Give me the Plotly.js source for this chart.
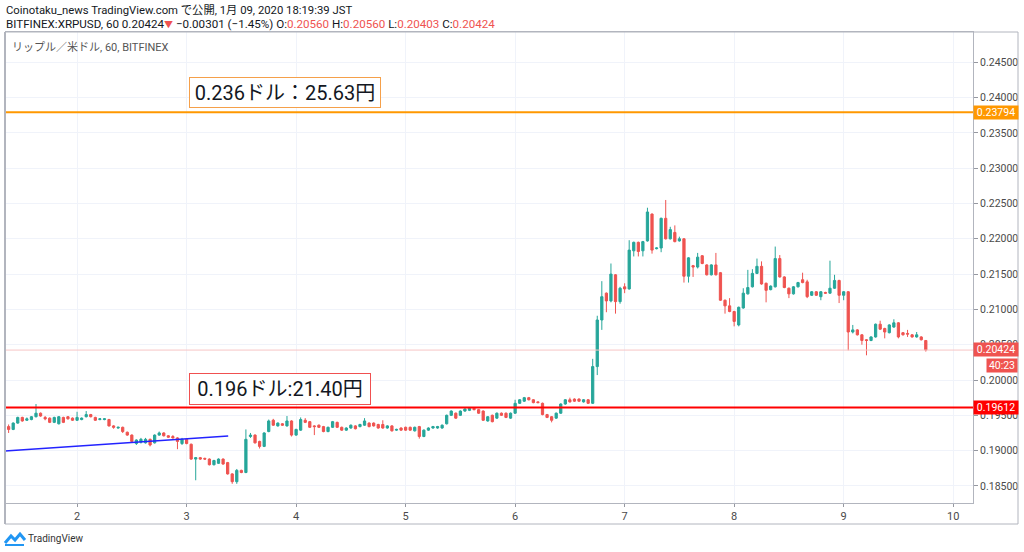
<!DOCTYPE html>
<html>
<head>
<meta charset="utf-8">
<script src="https://cdn.plot.ly/plotly-3.0.1.min.js"></script>
<style>
html,body{margin:0;padding:0;background:#fff;}
#chart{width:1024px;height:552px;}
</style>
</head>
<body>
<div id="chart"></div>
<script>
// ---- Data (hourly candles, XRPUSD, BITFINEX) ----
const startDay = 1;      // January 1
const startHour = 9;     // first candle hour
const openP = [
.1934,.1930,.1939,.1947,.1943,.1944,.1948,.1953,.1947,.1946,
.1940,.1938,.1947,.1948,.1946,.1943,.1944,.1948,.1951,.1947,
.1944,.1944,.1944,.1935,.1932,.1933,.1926,.1922,.1910,.1912,
.1911,.1916,.1911,.1922,.1925,.1921,.1920,.1918,.1910,.1916,
.1909,.1888,.1890,.1889,.1888,.1880,.1882,.1888,.1883,.1867,
.1856,.1872,.1869,.1920,.1922,.1913,.1906,.1927,.1943,.1935,
.1938,.1935,.1942,.1922,.1929,.1943,.1941,.1935,.1936,.1934,
.1927,.1933,.1940,.1933,.1929,.1932,.1935,.1934,.1936,.1939,
.1939,.1937,.1937,.1932,.1935,.1929,.1932,.1933,.1933,.1928,
.1934,.1920,.1929,.1932,.1932,.1932,.1938,.1950,.1953,.1950,
.1956,.1957,.1960,.1958,.1956,.1942,.1950,.1946,.1953,.1953,
.1946,.1953,.1967,.1970,.1975,.1972,.1969,.1967,.1951,.1948,
.1946,.1953,.1966,.1972,.1973,.1973,.1969,.1972,.1967,.2019,
.2085,.2123,.2112,.2149,.2111,.2132,.2129,.2183,.2195,.2183,
.2197,.2235,.2186,.2187,.2229,.2200,.2209,.2197,.2200,.2147,
.2162,.2160,.2176,.2163,.2149,.2163,.2152,.2113,.2105,.2097,
.2078,.2102,.2122,.2132,.2151,.2161,.2137,.2128,.2132,.2172,
.2146,.2130,.2122,.2132,.2142,.2139,.2120,.2125,.2118,.2124,
.2123,.2130,.2141,.2120,.2125,.2068,.2071,.2064,.2057,.2056,
.2061,.2079,.2073,.2067,.2075,.2081,.2067,.2066,.2064,.2061,
.2061,.20560];
const highP = [
.1937,.1940,.1948,.1948,.1947,.1949,.1966,.1954,.1949,.1947,
.1948,.1949,.1948,.1949,.1947,.1955,.1947,.1956,.1952,.1948,
.1946,.1946,.1945,.1936,.1934,.1934,.1927,.1923,.1916,.1918,
.1918,.1917,.1923,.1927,.1926,.1922,.1922,.1919,.1918,.1917,
.1910,.1891,.1891,.1890,.1889,.1887,.1889,.1889,.1884,.1868,
.1874,.1873,.1930,.1925,.1923,.1914,.1926,.1944,.1945,.1940,
.1939,.1949,.1943,.1931,.1947,.1946,.1942,.1936,.1937,.1935,
.1934,.1942,.1941,.1934,.1933,.1937,.1936,.1938,.1946,.1940,
.1940,.1938,.1943,.1936,.1936,.1931,.1933,.1934,.1934,.1934,
.1935,.1930,.1933,.1935,.1935,.1937,.1951,.1957,.1954,.1957,
.1960,.1961,.1961,.1959,.1957,.1949,.1951,.1954,.1954,.1954,
.1954,.1972,.1973,.1976,.1976,.1973,.1970,.1968,.1952,.1949,
.1954,.1967,.1973,.1975,.1974,.1974,.1973,.1973,.2030,.2091,
.2140,.2124,.2165,.2150,.2132,.2137,.2198,.2196,.2196,.2197,
.2244,.2236,.2188,.2230,.2255,.2217,.2219,.2203,.2201,.2174,
.2163,.2180,.2177,.2164,.2164,.2180,.2153,.2114,.2116,.2098,
.2104,.2130,.2156,.2157,.2172,.2168,.2138,.2134,.2189,.2177,
.2147,.2131,.2133,.2139,.2152,.2142,.2126,.2126,.2126,.2125,
.2169,.2149,.2142,.2126,.2126,.2078,.2072,.2065,.2058,.2062,
.2080,.2084,.2074,.2079,.2086,.2082,.2068,.2071,.2065,.2068,
.2062,.20560];
const lowP = [
.1925,.1929,.1938,.1941,.1942,.1943,.1947,.1948,.1943,.1939,
.1939,.1937,.1939,.1944,.1942,.1942,.1943,.1947,.1947,.1942,
.1943,.1943,.1934,.1931,.1931,.1925,.1921,.1911,.1908,.1910,
.1910,.1906,.1910,.1921,.1920,.1918,.1917,.1902,.1908,.1909,
.1887,.1858,.1887,.1887,.1879,.1879,.1881,.1880,.1866,.1853,
.1853,.1868,.1868,.1918,.1910,.1903,.1905,.1926,.1935,.1934,
.1935,.1934,.1920,.1921,.1928,.1939,.1932,.1922,.1932,.1926,
.1926,.1932,.1932,.1928,.1928,.1931,.1930,.1933,.1935,.1933,
.1934,.1931,.1931,.1931,.1927,.1928,.1928,.1928,.1928,.1927,
.1917,.1919,.1928,.1931,.1931,.1931,.1937,.1949,.1945,.1949,
.1955,.1956,.1957,.1952,.1942,.1941,.1940,.1945,.1949,.1946,
.1945,.1952,.1966,.1969,.1971,.1967,.1967,.1950,.1946,.1940,
.1945,.1952,.1965,.1968,.1969,.1969,.1968,.1966,.1966,.2007,
.2071,.2096,.2110,.2094,.2108,.2123,.2128,.2175,.2175,.2175,
.2196,.2179,.2185,.2181,.2199,.2199,.2195,.2196,.2138,.2138,
.2146,.2158,.2164,.2148,.2148,.2148,.2112,.2094,.2096,.2076,
.2076,.2101,.2121,.2131,.2150,.2135,.2110,.2127,.2131,.2145,
.2130,.2116,.2121,.2131,.2137,.2116,.2119,.2119,.2113,.2122,
.2122,.2129,.2109,.2113,.2042,.2066,.2063,.2050,.2035,.2055,
.2060,.2071,.2059,.2066,.2074,.2059,.2063,.2061,.2060,.2060,
.2056,.20403];
const closeP = [
.1930,.1939,.1947,.1942,.1945,.1948,.1953,.1949,.1945,.1940,
.1947,.1948,.1940,.1945,.1943,.1947,.1946,.1951,.1948,.1943,
.1945,.1945,.1935,.1933,.1933,.1927,.1922,.1913,.1915,.1916,
.1916,.1908,.1922,.1925,.1921,.1919,.1918,.1913,.1916,.1910,
.1888,.1890,.1888,.1888,.1880,.1886,.1888,.1881,.1867,.1856,
.1872,.1869,.1916,.1922,.1911,.1906,.1925,.1942,.1936,.1939,
.1936,.1942,.1922,.1930,.1944,.1940,.1933,.1934,.1933,.1927,
.1933,.1941,.1933,.1929,.1932,.1936,.1931,.1937,.1942,.1934,
.1935,.1932,.1932,.1935,.1928,.1930,.1929,.1929,.1929,.1933,
.1920,.1929,.1932,.1934,.1934,.1936,.1950,.1956,.1946,.1956,
.1959,.1960,.1958,.1953,.1943,.1948,.1941,.1953,.1950,.1947,
.1953,.1967,.1972,.1975,.1972,.1968,.1968,.1951,.1947,.1943,
.1953,.1966,.1972,.1969,.1970,.1970,.1972,.1967,.2019,.2085,
.2118,.2112,.2150,.2111,.2130,.2129,.2184,.2195,.2182,.2196,
.2238,.2184,.2187,.2229,.2200,.2213,.2196,.2200,.2147,.2173,
.2160,.2174,.2165,.2149,.2163,.2149,.2113,.2105,.2097,.2083,
.2103,.2123,.2131,.2151,.2161,.2136,.2127,.2133,.2172,.2146,
.2131,.2122,.2132,.2138,.2138,.2118,.2125,.2120,.2125,.2123,
.2130,.2141,.2120,.2125,.2068,.2071,.2064,.2056,.2056,.2061,
.2079,.2072,.2068,.2078,.2081,.2061,.2064,.2065,.2061,.2064,
.2057,.20424];

const dayTicks = [2,3,4,5,6,7,8,9,10];
const dayLabels = ['2','3','4','5','6','7','8','9','10'];
const priceTicks = [0.185,0.190,0.195,0.200,0.205,0.210,0.215,0.220,0.225,0.230,0.235,0.240,0.245];
const levelValues = [0.23794, 0.19612];
const levelColors = ['#ff9800', '#ff0000'];
const levelNotes = ['0.236ドル：25.63円', '0.196ドル:21.40円'];
const noteValues = [0.24072, 0.19873];
const lastPrice = 0.20424;
const countdown = '40:23';
const trendX = [1.342, 3.380];
const trendY = [0.18994, 0.19207];

// time axis: hourly candles in day units
const xs = openP.map((_, i) => startDay + (startHour + i) / 24);

// ---- Layout helpers (pixel -> paper) ----
const L = 5, R = 973, T = 32, B = 503;
const px = x => (x - L) / (R - L);
const py = y => (B - y) / (B - T);

const FONT = "Roboto, 'Noto Sans CJK JP', sans-serif";
const red = '#ef5350', green = '#26a69a';

const traces = [
  {
    type: 'candlestick', x: xs, open: openP, high: highP, low: lowP, close: closeP,
    increasing: {line: {color: green, width: 1}, fillcolor: green},
    decreasing: {line: {color: red, width: 1}, fillcolor: red},
    whiskerwidth: 0, hoverinfo: 'skip', showlegend: false
  },
  {
    type: 'scatter', mode: 'lines', x: trendX, y: trendY,
    line: {color: '#2323ff', width: 1.5}, hoverinfo: 'skip', showlegend: false
  }
];

const shapes = [];
levelValues.forEach((v, i) => shapes.push({
  type: 'line', xref: 'paper', x0: 0, x1: 1, yref: 'y', y0: v, y1: v,
  line: {color: levelColors[i], width: 2}
}));
shapes.push({type: 'line', xref: 'paper', x0: 0, x1: 1, yref: 'y', y0: lastPrice, y1: lastPrice,
  line: {color: '#f7c5c5', width: 1}});
shapes.push({type: 'rect', xref: 'paper', yref: 'paper', x0: 0, x1: px(1018), y0: py(524), y1: 1,
  line: {color: '#b2b5be', width: 1}, layer: 'above'});
shapes.push({type: 'line', xref: 'paper', yref: 'paper', x0: 0, x1: 0, y0: py(524), y1: 1,
  line: {color: '#b2b5be', width: 2}, layer: 'above'});
// TradingView logo glyph
shapes.push({type: 'path', xref: 'paper', yref: 'paper', layer: 'above',
  path: `M ${px(5)} ${py(543)} L ${px(11)} ${py(536)} L ${px(15)} ${py(540)} L ${px(20)} ${py(534)} L ${px(25)} ${py(540)}`,
  line: {color: '#2196f3', width: 3}});
shapes.push({type: 'path', xref: 'paper', yref: 'paper', layer: 'above',
  path: `M ${px(5)} ${py(545)} L ${px(24)} ${py(545)}`,
  line: {color: '#2196f3', width: 2}});

const tagFont = {size: 10.5, color: '#fff', family: FONT};
const annotations = [
  {xref: 'paper', yref: 'paper', x: px(4), y: py(10), xanchor: 'left', yanchor: 'middle', showarrow: false,
   text: 'Coinotaku_news TradingView.com で公開, 1月 09, 2020 18:19:39 JST',
   font: {size: 11.3, color: '#131722', family: FONT}},
  {xref: 'paper', yref: 'paper', x: px(4), y: py(24.5), xanchor: 'left', yanchor: 'middle', showarrow: false,
   text: 'BITFINEX:XRPUSD, 60 0.20424<span style="color:#ef5350;font-size:9px">▼</span> −0.00301 (−1.45%) O:<span style="color:#ef5350">0.20560</span> H:<span style="color:#ef5350">0.20560</span> L:<span style="color:#ef5350">0.20403</span> C:<span style="color:#ef5350">0.20424</span>',
   font: {size: 11.6, color: '#131722', family: FONT}},
  {xref: 'paper', yref: 'paper', x: px(10), y: py(47), xanchor: 'left', yanchor: 'middle', showarrow: false,
   text: 'リップル／米ドル, 60, BITFINEX', font: {size: 11, color: '#555', family: FONT}},
  {xref: 'paper', yref: 'paper', x: px(26), y: py(538), xanchor: 'left', yanchor: 'middle', showarrow: false,
   text: 'TradingView', font: {size: 10, color: '#333', family: FONT}},
  {xref: 'paper', yref: 'y', x: px(973), y: levelValues[0], xanchor: 'left', yanchor: 'middle', showarrow: false,
   text: levelValues[0].toFixed(5), bgcolor: levelColors[0], width: 44, height: 13, borderpad: 0, font: tagFont},
  {xref: 'paper', yref: 'y', x: px(973), y: levelValues[1], xanchor: 'left', yanchor: 'middle', showarrow: false,
   text: levelValues[1].toFixed(5), bgcolor: levelColors[1], width: 44, height: 13, borderpad: 0, font: tagFont},
  {xref: 'paper', yref: 'paper', x: px(973), y: py(349.5), xanchor: 'left', yanchor: 'middle', showarrow: false,
   text: lastPrice.toFixed(5), bgcolor: red, width: 44, height: 13, borderpad: 0, font: tagFont},
  {xref: 'paper', yref: 'paper', x: px(1018), y: py(365), xanchor: 'right', yanchor: 'middle', showarrow: false,
   text: countdown, bgcolor: red, width: 30, height: 13, borderpad: 0, font: tagFont},
  {xref: 'paper', yref: 'y', x: px(189), y: noteValues[0], xanchor: 'left', yanchor: 'middle', showarrow: false,
   text: levelNotes[0], width: 190, height: 29, borderpad: 0, borderwidth: 1, bordercolor: '#f5a04a',
   bgcolor: '#fff', align: 'center', font: {size: 20, color: '#131722', family: FONT}},
  {xref: 'paper', yref: 'y', x: px(189), y: noteValues[1], xanchor: 'left', yanchor: 'middle', showarrow: false,
   text: levelNotes[1], width: 180, height: 30, borderpad: 0, borderwidth: 1, bordercolor: '#f05050',
   bgcolor: '#fff', align: 'center', font: {size: 20, color: '#131722', family: FONT}}
];

const layout = {
  width: 1024, height: 552,
  margin: {l: L, r: 1024 - R, t: T, b: 552 - B, pad: 0},
  paper_bgcolor: '#fff', plot_bgcolor: '#fff',
  font: {family: FONT, color: '#4a4a4a', size: 11},
  showlegend: false,
  xaxis: {
    range: [1.3419, 10.181], rangeslider: {visible: false},
    tickvals: dayTicks, ticktext: dayLabels,
    showgrid: true, gridcolor: '#f0f3fa', gridwidth: 1,
    ticks: 'outside', ticklen: 3, tickcolor: '#9598a1',
    showline: true, linecolor: '#b2b5be', linewidth: 1, mirror: true,
    zeroline: false, tickfont: {size: 11, color: '#4a4a4a'}, fixedrange: true
  },
  yaxis: {
    side: 'right', range: [0.18258, 0.24929],
    tickvals: priceTicks, ticktext: priceTicks.map(v => v.toFixed(5)),
    showgrid: true, gridcolor: '#f0f3fa', gridwidth: 1,
    ticks: 'outside', ticklen: 4, tickcolor: '#9598a1',
    showline: true, linecolor: '#b2b5be', linewidth: 1,
    zeroline: false, tickfont: {size: 10.5, color: '#4a4a4a'}, fixedrange: true
  },
  shapes: shapes,
  annotations: annotations
};

Plotly.newPlot('chart', traces, layout, {displayModeBar: false, staticPlot: true});
</script>
</body>
</html>
